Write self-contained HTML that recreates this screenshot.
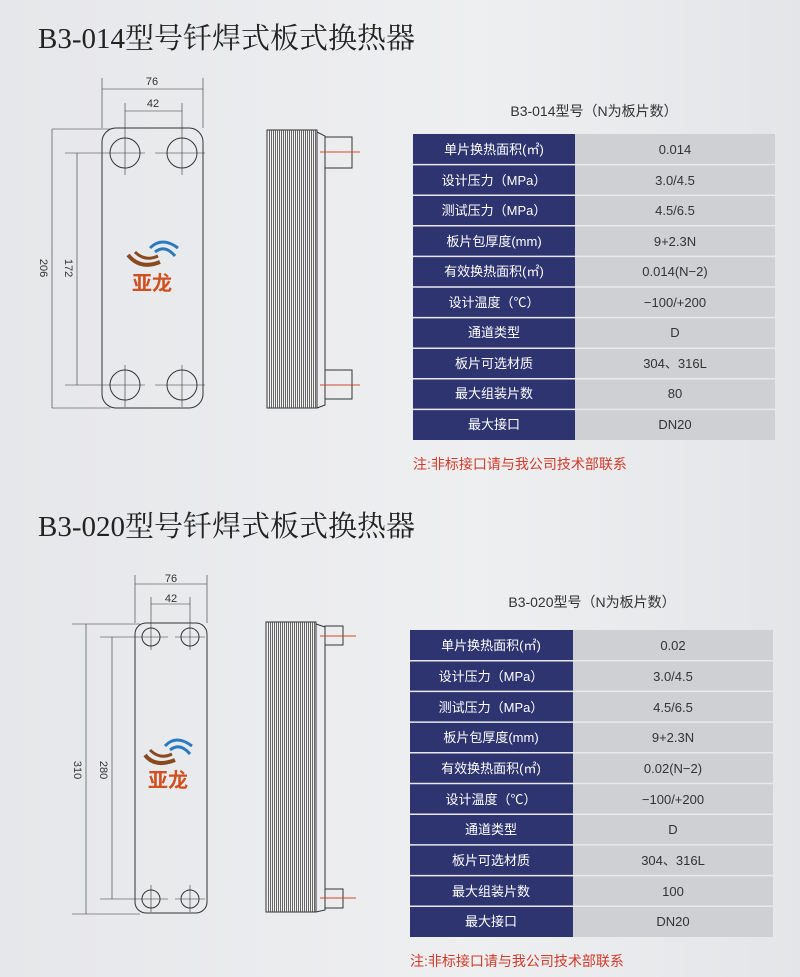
<!DOCTYPE html>
<html><head><meta charset="utf-8"><style>
body{margin:0;width:800px;height:977px;overflow:hidden;background:linear-gradient(90deg,#e6e7ea,#eeeff1 60%,#e4e5e8);font-family:"Liberation Sans","Noto Sans CJK SC",sans-serif}
svg{position:absolute;left:0;top:0}
</style></head><body>
<svg width="800" height="977" viewBox="0 0 800 977" xmlns="http://www.w3.org/2000/svg" font-family="Liberation Sans, Noto Sans CJK SC, sans-serif">
<text x="38" y="48" font-family="Liberation Serif, Noto Serif CJK SC, serif" font-size="29" fill="#222">B3-014型号钎焊式板式换热器</text>
<text x="38" y="536" font-family="Liberation Serif, Noto Serif CJK SC, serif" font-size="29" fill="#222">B3-020型号钎焊式板式换热器</text>

<g stroke="#333" fill="none" stroke-width="1">
<rect x="102" y="128" width="101" height="280" rx="14"/>
<circle cx="125" cy="153" r="15"/><circle cx="182" cy="153" r="15"/>
<circle cx="125" cy="385" r="15"/><circle cx="182" cy="385" r="15"/>
<g stroke-width="0.6">
<line x1="102" y1="78" x2="102" y2="128"/><line x1="203" y1="78" x2="203" y2="128"/>
<line x1="102" y1="89" x2="203" y2="89"/>
<line x1="125" y1="103" x2="125" y2="175"/><line x1="182" y1="103" x2="182" y2="175"/>
<line x1="125" y1="111" x2="182" y2="111"/>
<line x1="52" y1="129" x2="110" y2="129"/><line x1="52" y1="408" x2="110" y2="408"/>
<line x1="52" y1="129" x2="52" y2="408"/>
<line x1="65" y1="153" x2="145" y2="153"/><line x1="155" y1="153" x2="205" y2="153"/>
<line x1="65" y1="385" x2="145" y2="385"/><line x1="155" y1="385" x2="205" y2="385"/>
<line x1="77" y1="153" x2="77" y2="385"/>
<line x1="125" y1="365" x2="125" y2="407"/><line x1="182" y1="365" x2="182" y2="407"/>
</g>
<rect x="267" y="130" width="50" height="278" fill="#f2f2f2"/>
<path d="M317 132 L325 136 L325 405 L317 408"/>
<rect x="325" y="137" width="27" height="31"/><rect x="325" y="370" width="27" height="29"/>
<rect x="135" y="623" width="72" height="290" rx="11"/>
<circle cx="151" cy="637" r="9"/><circle cx="190" cy="637" r="9"/>
<circle cx="151" cy="899" r="9"/><circle cx="190" cy="899" r="9"/>
<g stroke-width="0.6">
<line x1="135" y1="575" x2="135" y2="623"/><line x1="207" y1="575" x2="207" y2="623"/>
<line x1="135" y1="584" x2="207" y2="584"/>
<line x1="151" y1="597" x2="151" y2="650"/><line x1="190" y1="597" x2="190" y2="650"/>
<line x1="151" y1="604" x2="190" y2="604"/>
<line x1="72" y1="624" x2="140" y2="624"/><line x1="72" y1="914" x2="140" y2="914"/>
<line x1="86" y1="624" x2="86" y2="914"/>
<line x1="100" y1="637" x2="168" y2="637"/><line x1="175" y1="637" x2="205" y2="637"/>
<line x1="100" y1="899" x2="168" y2="899"/><line x1="175" y1="899" x2="205" y2="899"/>
<line x1="112" y1="637" x2="112" y2="899"/>
<line x1="151" y1="885" x2="151" y2="912"/><line x1="190" y1="885" x2="190" y2="912"/>
</g>
<rect x="266" y="622" width="50" height="290" fill="#f2f2f2"/>
<path d="M316 624 L325 627 L325 910 L316 912"/>
<rect x="325" y="626" width="18" height="19"/><rect x="325" y="889" width="18" height="19"/>
</g>
<g stroke="#444" stroke-width="0.8" transform="translate(0.5,0)">
<path d="M269 130V408M271 130V408M273 130V408M275 130V408M277 130V408M279 130V408M281 130V408M283 130V408M285 130V408M287 130V408M289 130V408M291 130V408M293 130V408M295 130V408M297 130V408M299 130V408M301 130V408M303 130V408M305 130V408M307 130V408M309 130V408M311 130V408M313 130V408M315 130V408"/>
<path d="M268 622V912M270 622V912M272 622V912M274 622V912M276 622V912M278 622V912M280 622V912M282 622V912M284 622V912M286 622V912M288 622V912M290 622V912M292 622V912M294 622V912M296 622V912M298 622V912M300 622V912M302 622V912M304 622V912M306 622V912M308 622V912M310 622V912M312 622V912M314 622V912"/>
</g>
<g stroke="#d04a2a" stroke-width="1">
<line x1="320" y1="152" x2="360" y2="152"/><line x1="320" y1="385" x2="360" y2="385"/>
<line x1="320" y1="636" x2="356" y2="636"/><line x1="320" y1="898" x2="356" y2="898"/>
</g>
<g font-size="11" fill="#333" text-anchor="middle">
<text x="152" y="85">76</text><text x="153" y="107">42</text>
<text transform="translate(40,268) rotate(90)">206</text>
<text transform="translate(65,268) rotate(90)">172</text>
<text x="171" y="582">76</text><text x="171" y="602">42</text>
<text transform="translate(74,770) rotate(90)">310</text>
<text transform="translate(100,770) rotate(90)">280</text>
</g>
<g>
<path d="M128 255 Q140 270 160 262" stroke="#8a4a20" stroke-width="4" fill="none"/>
<path d="M135 252 Q145 262 158 256" stroke="#8a4a20" stroke-width="3" fill="none"/>
<path d="M150 248 Q162 236 178 248" stroke="#2a7ac0" stroke-width="3" fill="none"/>
<path d="M155 252 Q165 244 175 256" stroke="#2a7ac0" stroke-width="3" fill="none"/>
<text x="152" y="290" font-size="20" font-weight="bold" fill="#d05020" text-anchor="middle">亚龙</text>
<path d="M145 755 Q155 768 175 760" stroke="#8a4a20" stroke-width="4" fill="none"/>
<path d="M150 750 Q160 760 172 754" stroke="#8a4a20" stroke-width="3" fill="none"/>
<path d="M165 746 Q176 734 192 746" stroke="#2a7ac0" stroke-width="3" fill="none"/>
<path d="M170 750 Q180 742 190 754" stroke="#2a7ac0" stroke-width="3" fill="none"/>
<text x="168" y="787" font-size="20" font-weight="bold" fill="#d05020" text-anchor="middle">亚龙</text>
</g>

<text x="594" y="116" font-size="14" fill="#333" text-anchor="middle">B3-014型号（N为板片数）</text>
<rect x="413" y="134" width="162" height="306" fill="#2e3470"/>
<rect x="575" y="134" width="200" height="306" fill="#cfd0d3"/>
<g stroke="#e8e8ee" stroke-width="1.5">
<line x1="413" y1="164.6" x2="775" y2="164.6"/><line x1="413" y1="195.2" x2="775" y2="195.2"/><line x1="413" y1="225.8" x2="775" y2="225.8"/><line x1="413" y1="256.4" x2="775" y2="256.4"/><line x1="413" y1="287" x2="775" y2="287"/><line x1="413" y1="317.6" x2="775" y2="317.6"/><line x1="413" y1="348.2" x2="775" y2="348.2"/><line x1="413" y1="378.8" x2="775" y2="378.8"/><line x1="413" y1="409.4" x2="775" y2="409.4"/>
</g>
<g font-size="13" fill="#fff" text-anchor="middle" font-weight="normal">
<text x="494" y="154">单片换热面积(㎡)</text><text x="494" y="185">设计压力（MPa）</text><text x="494" y="215">测试压力（MPa）</text><text x="494" y="246">板片包厚度(mm)</text><text x="494" y="276">有效换热面积(㎡)</text><text x="494" y="307">设计温度（℃）</text><text x="494" y="337">通道类型</text><text x="494" y="368">板片可选材质</text><text x="494" y="398">最大组装片数</text><text x="494" y="429">最大接口</text>
</g>
<g font-size="13" fill="#333" text-anchor="middle">
<text x="675" y="154">0.014</text><text x="675" y="185">3.0/4.5</text><text x="675" y="215">4.5/6.5</text><text x="675" y="246">9+2.3N</text><text x="675" y="276">0.014(N−2)</text><text x="675" y="307">−100/+200</text><text x="675" y="337">D</text><text x="675" y="368">304、316L</text><text x="675" y="398">80</text><text x="675" y="429">DN20</text>
</g>
<text x="413" y="469" font-size="14" fill="#d03a2a">注:非标接口请与我公司技术部联系</text>

<text x="592" y="607" font-size="14" fill="#333" text-anchor="middle">B3-020型号（N为板片数）</text>
<rect x="410" y="630" width="163" height="307" fill="#2e3470"/>
<rect x="573" y="630" width="200" height="307" fill="#cfd0d3"/>
<g stroke="#e8e8ee" stroke-width="1.5">
<line x1="410" y1="660.7" x2="773" y2="660.7"/><line x1="410" y1="691.4" x2="773" y2="691.4"/><line x1="410" y1="722.1" x2="773" y2="722.1"/><line x1="410" y1="752.8" x2="773" y2="752.8"/><line x1="410" y1="783.5" x2="773" y2="783.5"/><line x1="410" y1="814.2" x2="773" y2="814.2"/><line x1="410" y1="844.9" x2="773" y2="844.9"/><line x1="410" y1="875.6" x2="773" y2="875.6"/><line x1="410" y1="906.3" x2="773" y2="906.3"/>
</g>
<g font-size="13" fill="#fff" text-anchor="middle">
<text x="491" y="650">单片换热面积(㎡)</text><text x="491" y="681">设计压力（MPa）</text><text x="491" y="712">测试压力（MPa）</text><text x="491" y="742">板片包厚度(mm)</text><text x="491" y="773">有效换热面积(㎡)</text><text x="491" y="804">设计温度（℃）</text><text x="491" y="834">通道类型</text><text x="491" y="865">板片可选材质</text><text x="491" y="896">最大组装片数</text><text x="491" y="926">最大接口</text>
</g>
<g font-size="13" fill="#333" text-anchor="middle">
<text x="673" y="650">0.02</text><text x="673" y="681">3.0/4.5</text><text x="673" y="712">4.5/6.5</text><text x="673" y="742">9+2.3N</text><text x="673" y="773">0.02(N−2)</text><text x="673" y="804">−100/+200</text><text x="673" y="834">D</text><text x="673" y="865">304、316L</text><text x="673" y="896">100</text><text x="673" y="926">DN20</text>
</g>
<text x="410" y="966" font-size="14" fill="#d03a2a">注:非标接口请与我公司技术部联系</text>
</svg>
</body></html>
